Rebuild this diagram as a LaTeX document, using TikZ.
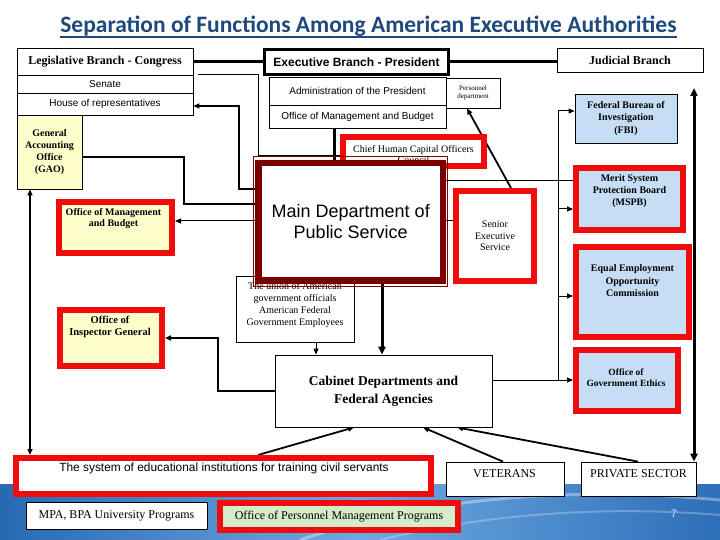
\documentclass[tikz,border=0pt]{standalone}
\usepackage{fontspec}
\setmainfont{Liberation Serif}
\newfontfamily\fser{Liberation Serif}
\newfontfamily\fsan{Liberation Sans}
\newfontfamily\fcal{Carlito}
\usetikzlibrary{arrows.meta}
\pgfdeclarelayer{back}
\pgfdeclarelayer{wires}
\pgfsetlayers{back,wires,main}
\definecolor{redc}{RGB}{238,12,12}
\definecolor{mainred}{RGB}{120,0,0}
\definecolor{yel}{RGB}{255,255,204}
\definecolor{lblue}{RGB}{198,222,245}
\definecolor{lgreen}{RGB}{212,236,202}
\definecolor{ttl}{RGB}{31,73,125}
\definecolor{bandL}{RGB}{40,105,180}
\definecolor{bandM}{RGB}{110,170,225}
\definecolor{bandR}{RGB}{45,110,185}
\tikzset{
  bx/.style={draw, line width=0.8pt, fill=white, inner sep=0pt, align=center},
  rbx/.style={draw=redc, line width=6pt, fill=white, inner sep=0pt, align=center},
  lbl/.style={inner sep=0pt, align=center},
  wthin/.style={line width=1pt},
  wmed/.style={line width=1.8pt},
  wthick/.style={line width=3pt},
  arw/.style={-{Triangle[length=6pt,width=5pt]}},
  arwb/.style={{Triangle[length=6pt,width=5pt]}-{Triangle[length=6pt,width=5pt]}},
  arwL/.style={-{Triangle[length=8pt,width=7pt]}},
  arwLb/.style={{Triangle[length=8pt,width=7pt]}-{Triangle[length=8pt,width=7pt]}},
  sans10/.style={font=\fsan\fontsize{10}{12}\selectfont},
  serb10/.style={font=\fser\bfseries\fontsize{10}{12}\selectfont},
  ser12/.style={font=\fser\fontsize{12}{14}\selectfont}
}
\begin{document}
\begin{tikzpicture}[x=1pt,y=-1pt]
\useasboundingbox (0,0) rectangle (720,540);
\begin{pgfonlayer}{back}
  \fill[white] (0,0) rectangle (720,540);
  \shade[left color=bandL, right color=bandR, middle color=bandM] (0,484) rectangle (720,540);
  \draw[white, opacity=0.35, line width=3pt] (300,540) .. controls (420,500) and (560,485) .. (720,500);
  \draw[white, opacity=0.25, line width=2pt] (380,540) .. controls (480,515) and (600,505) .. (720,515);
\end{pgfonlayer}

% title
\node[inner sep=0pt, anchor=base, text=ttl, font=\fcal\bfseries\fontsize{23.5}{28}\selectfont] (title) at (368.5,33) {Separation of Functions Among American Executive Authorities};
\draw[ttl, line width=1.4pt] ([yshift=-4pt]title.base west) -- ([yshift=-4pt]title.base east);

% left column
\node[bx, minimum width=176pt, minimum height=27pt, font=\fser\bfseries\fontsize{12}{14}\selectfont] (leg) at (105,61.5) {Legislative Branch - Congress};
\node[bx, sans10, minimum width=176pt, minimum height=18pt] (senate) at (105,84) {Senate};
\node[bx, sans10, minimum width=176pt, minimum height=22pt] (house) at (105,104) {House of representatives};
\node[bx, serb10, fill=yel, minimum width=65pt, minimum height=74pt] (gao) at (49.5,152) {General\\Accounting\\Office\\(GAO)};

% executive
\node[bx, line width=3pt, minimum width=184pt, minimum height=25pt, font=\fsan\bfseries\fontsize{12}{14}\selectfont] (exec) at (356.5,62) {Executive Branch - President};
\node[bx, minimum width=146pt, minimum height=24pt, font=\fser\bfseries\fontsize{12}{14}\selectfont] (jud) at (630,60) {Judicial Branch};
\node[bx, sans10, minimum width=177pt, minimum height=28pt] (admin) at (357.5,91) {Administration of the President};
\node[bx, sans10, minimum width=177pt, minimum height=23pt] (omb1) at (357.5,116.5) {Office of Management and Budget};
\node[bx, minimum width=54pt, minimum height=30pt, font=\fser\fontsize{7}{8.5}\selectfont] (pers) at (473,93) {Personnel\\department};

% right column
\node[bx, serb10, fill=lblue, minimum width=102pt, minimum height=49pt, font=\fser\bfseries\fontsize{10}{12.5}\selectfont] (fbi) at (626,118.5) {Federal Bureau of\\Investigation\\(FBI)};
\node[rbx, fill=lblue, minimum width=107pt, minimum height=62pt] (mspb) at (629.5,199) {};
\node[lbl, serb10] (mspbt) at (629.5,191) {Merit System\\Protection Board\\(MSPB)};
\node[rbx, fill=lblue, minimum width=113pt, minimum height=90pt] (eeoc) at (632.5,292) {};
\node[lbl, font=\fser\bfseries\fontsize{10}{12.5}\selectfont] (eeoct) at (632.5,281) {Equal Employment\\Opportunity\\Commission};
\node[rbx, fill=lblue, minimum width=102pt, minimum height=61pt] (oge) at (627,380.5) {};
\node[lbl, font=\fser\bfseries\fontsize{9.5}{11}\selectfont] (oget) at (626,377.5) {Office of\\Government Ethics};

% centre
\node[rbx, minimum width=141pt, minimum height=29pt] (chief) at (413.5,151.5) {};
\node[lbl, font=\fser\fontsize{10}{11.5}\selectfont] (chieft) at (413.5,154.5) {Chief Human Capital Officers\\Council};
\node[bx, minimum width=118pt, minimum height=66pt] (union) at (295,309) {};
\node[lbl, font=\fser\fontsize{10}{12}\selectfont] (uniont) at (295,305) {The union of American\\government officials\\American Federal\\Government Employees};
\node[draw=mainred, line width=6.5pt, fill=white, inner sep=0pt, align=center, minimum width=184.5pt, minimum height=117.5pt, font=\fsan\fontsize{18}{21}\selectfont] (main) at (350.75,221.75) {Main Department of\\Public Service};
\draw[mainred, line width=1pt] (253.5,157) rectangle (447.5,286);
\node[rbx, minimum width=78pt, minimum height=90pt, font=\fser\fontsize{10}{11.7}\selectfont] (ses) at (495,236) {Senior\\Executive\\Service};

% left red boxes
\node[rbx, fill=yel, minimum width=113pt, minimum height=51pt] (omb2) at (115.5,227.5) {};
\node[lbl, font=\fser\bfseries\fontsize{10}{11}\selectfont] (omb2t) at (113.5,218.5) {Office of Management\\and Budget};
\node[rbx, fill=yel, minimum width=102pt, minimum height=56pt] (ig) at (111,338) {};
\node[lbl, font=\fser\bfseries\fontsize{10.5}{12}\selectfont] (igt) at (110,327) {Office of\\Inspector General};

% cabinet
\node[bx, minimum width=217pt, minimum height=72pt, font=\fser\bfseries\fontsize{13.5}{18}\selectfont] (cab) at (383.5,391) {Cabinet Departments and\\Federal Agencies};

% bottom
\node[rbx, minimum width=415pt, minimum height=36pt] (edu) at (223.5,476) {};
\node[lbl, font=\fsan\fontsize{11.9}{14}\selectfont] (edut) at (224,468) {The system of educational institutions for training civil servants};
\node[bx, minimum width=118pt, minimum height=34pt] (vet) at (505,479) {};
\node[lbl, ser12] (vett) at (504.5,474) {VETERANS};
\node[bx, minimum width=115pt, minimum height=34pt] (priv) at (638.5,479) {};
\node[lbl, ser12] (privt) at (638.5,474) {PRIVATE SECTOR};
\node[bx, ser12, minimum width=181pt, minimum height=27pt] (mpa) at (116.5,515.5) {MPA, BPA University Programs};
\node[rbx, ser12, fill=lgreen, minimum width=238pt, minimum height=27pt] (opm) at (339,516.5) {Office of Personnel Management Programs};
\node[lbl, font=\fsan\fontsize{11}{13}\selectfont, text=white!85!blue] (pg) at (674,514) {7};

% connectors
\begin{pgfonlayer}{wires}
  \draw[wthick] (leg.east) -- (leg.east -| exec.west);
  \draw[wthick] (exec.east) -- (exec.east -| jud.west);
  \coordinate (s0) at (198,75);
  \coordinate (s1) at (258,75);
  \coordinate (s2) at (258,156);
  \coordinate (s3) at (345,156);
  \draw[wthin] (s0) -- (s1) -- (s2) -- (s3);
  \coordinate (o1) at (334,140);
  \draw[wthick] (omb1.south -| o1) -- (main.north -| o1);
  \coordinate (h1) at (239,189);
  \coordinate (h2) at (239,106);
  \draw[wmed,arw] (main.west |- h1) -- (h1) -- (h2) -- (house.east |- h2);
  \coordinate (g1) at (184,157);
  \coordinate (g2) at (184,204);
  \draw[wmed] (gao.east |- g1) -- (g1) -- (g2) -- (main.west |- g2);
  \coordinate (b1) at (200,221);
  \draw[wthin,arw] (main.west |- b1) -- (omb2.east |- b1);
  \coordinate (v30) at (30,300);
  \draw[wmed,arwb] (gao.south -| v30) -- (edu.north -| v30);
  \coordinate (i1) at (218,391);
  \coordinate (i2) at (218,338);
  \draw[wmed,arw] (cab.west |- i1) -- (i1) -- (i2) -- (ig.east |- i2);
  \coordinate (u1) at (316,350);
  \draw[wthin,arw] (union.south -| u1) -- (cab.north -| u1);
  \coordinate (m1) at (382,300);
  \draw[wthick,arwL] (main.south -| m1) -- (cab.north -| m1);
  \coordinate (e181) at (500,181);
  \draw[wthin] (main.east |- e181) -- (mspb.west |- e181);
  \coordinate (e221) at (450,221);
  \draw[wthin] (main.east |- e221) -- (ses.west |- e221);
  \coordinate (r1) at (558,380);
  \coordinate (r2) at (558,111);
  \coordinate (r3) at (558,209);
  \coordinate (r4) at (558,296);
  \draw[wthin] (cab.east |- r1) -- (r1);
  \draw[wthin,arw] (r1) -- (oge.west |- r1);
  \draw[wthin,arw] (r1) -- (r2) -- (fbi.west |- r2);
  \draw[wthin,arw] (r3) -- (mspb.west |- r3);
  \draw[wthin,arw] (r4) -- (eeoc.west |- r4);
  \coordinate (t1) at (694,88);
  \draw[wthick,arwLb] (t1) -- (priv.north -| t1);
  \coordinate (p1) at (511,200);
  \coordinate (p2) at (467,100);
  \draw[wmed,arw] (ses.north -| p1) -- (pers.south -| p2);
  \coordinate (c1) at (258,450);
  \coordinate (c2) at (354,430);
  \draw[wmed,arw] (edu.north -| c1) -- (cab.south -| c2);
  \coordinate (c3) at (503,450);
  \coordinate (c4) at (423,430);
  \draw[wmed,arw] (vet.north -| c3) -- (cab.south -| c4);
  \coordinate (c5) at (638,450);
  \coordinate (c6) at (457,430);
  \draw[wmed,arw] (priv.north -| c5) -- (cab.south -| c6);
\end{pgfonlayer}
\end{tikzpicture}
\end{document}
